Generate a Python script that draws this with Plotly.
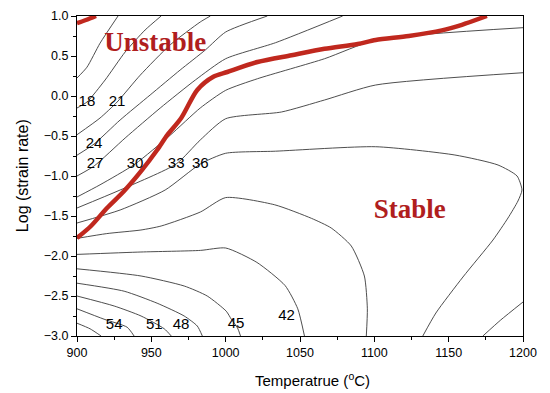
import plotly.graph_objects as go

# ---- data (Temperature degC, log strain rate) ----
T_15 = [900, 906.7, 915.5, 927.6]
Y_15 = [0.225, 0.36, 0.66, 1.0]
T_18 = [900, 906.7, 918.9, 932.4, 945.8, 956.6]
Y_18 = [-0.15, -0.075, 0.2, 0.55, 0.825, 1.0]
T_21 = [900, 915.5, 927, 942.5, 962.7, 982.9, 989.7]
Y_21 = [-0.484, -0.275, -0.075, 0.26, 0.64, 0.925, 1.0]
T_24 = [900, 911.5, 929, 949.2, 969.4, 986.3, 1000, 1028]
Y_24 = [-0.74, -0.6, -0.3, 0.0125, 0.325, 0.575, 0.8, 1.0]
T_27 = [900, 911.5, 932.4, 956, 979.6, 1000, 1033.5, 1078.7]
Y_27 = [-1.0, -0.875, -0.525, -0.15, 0.2, 0.466, 0.666, 1.0]
T_30 = [900, 915.5, 939.1, 962.7, 982.9, 1000, 1021.4, 1066.5, 1100.9, 1200]
Y_30 = [-1.2625, -1.11, -0.85, -0.49, -0.15, 0.071, 0.216, 0.466, 0.7, 0.854]
T_33 = [900, 929, 966.7, 982.9, 1000, 1037.5, 1066.5, 1100.9, 1200]
Y_33 = [-1.4, -1.175, -0.85, -0.55, -0.284, -0.2, -0.05, 0.1375, 0.291]
T_36 = [900, 929, 959.3, 982.9, 1000, 1033.5, 1100.9, 1154.2, 1183.2, 1196,
        1199.3, 1196.6, 1189.9, 1179.8, 1159.6, 1141.4, 1132.6]
Y_36 = [-1.5875, -1.425, -1.175, -0.85, -0.716, -0.69, -0.634, -0.7375, -0.8625, -1.0,
        -1.175, -1.3125, -1.525, -1.8, -2.2625, -2.7125, -3.0]
T_39 = [900, 920, 943, 956.6, 983, 1000, 1033, 1057.8, 1071, 1084.5, 1093.3, 1095.3, 1094.6]
Y_39 = [-1.78, -1.72, -1.675, -1.625, -1.45, -1.27, -1.36, -1.53, -1.65, -1.875, -2.25, -2.66, -3.0]
T_42 = [900, 943, 983, 1000, 1021, 1040, 1048.5, 1053]
Y_42 = [-1.98, -1.95, -1.93, -1.9, -2.08, -2.37, -2.66, -3.0]
T_45 = [900, 943.1, 972.1, 987.6, 1000.4, 1003.8, 1008, 1010]
Y_45 = [-2.16, -2.25, -2.375, -2.5, -2.69, -2.79, -2.9, -3.0]
T_48 = [900, 931.7, 953.9, 972.1, 980.9, 984.3]
Y_48 = [-2.34, -2.44, -2.59, -2.75, -2.875, -3.0]
T_51 = [900, 925, 943.1, 958.7, 963.4]
Y_51 = [-2.5, -2.625, -2.75, -2.91, -3.0]
T_54 = [900, 918.2, 933.7, 938.4]
Y_54 = [-2.66, -2.79, -2.89, -3.0]
T_57 = [900, 908.8, 916.2]
Y_57 = [-2.84, -2.91, -3.0]
T_33b = [1200, 1185, 1173]
Y_33b = [-2.575, -2.8, -3.0]

# instability boundary (red)
T_red_main = [900, 909.4, 920.2, 931.7, 943.1, 953.9, 960.7, 970.1, 980.9, 991.7, 1001.1,
              1021.4, 1044.3, 1066.5, 1088.8, 1100.9, 1123.2, 1145.4, 1158.9, 1175.7]
Y_red_main = [-1.775, -1.625, -1.4, -1.1875, -0.94, -0.675, -0.49, -0.275, 0.075, 0.24, 0.3,
              0.425, 0.51, 0.59, 0.65, 0.7, 0.75, 0.82, 0.89, 1.0]
T_red_corner = [900, 906, 912.8]
Y_red_corner = [0.91, 0.95, 1.0]

# contour labels
label_text = ["18", "21", "24", "27", "30", "33", "36", "54", "51", "48", "45", "42"]
label_T = [906.7, 927, 911.5, 912.1, 939.1, 966.7, 982.9, 925, 952, 970, 1007, 1041]
label_Y = [-0.075, -0.075, -0.6, -0.85, -0.85, -0.85, -0.85, -2.86, -2.86, -2.86, -2.85, -2.75]

region_text = ["Unstable", "Stable"]
region_T = [952.6, 1123.8]
region_Y = [0.65, -1.44]

x_ticks = [900, 950, 1000, 1050, 1100, 1150, 1200]
y_ticks = [-3.0, -2.5, -2.0, -1.5, -1.0, -0.5, 0.0, 0.5, 1.0]

contours = [(T_15, Y_15), (T_18, Y_18), (T_21, Y_21), (T_24, Y_24), (T_27, Y_27),
            (T_30, Y_30), (T_33, Y_33), (T_36, Y_36), (T_39, Y_39), (T_42, Y_42),
            (T_45, Y_45), (T_48, Y_48), (T_51, Y_51), (T_54, Y_54), (T_57, Y_57),
            (T_33b, Y_33b)]

fig = go.Figure()
for tx, ty in contours:
    fig.add_trace(go.Scatter(x=tx, y=ty, mode="lines",
                             line=dict(color="#3a3a3a", width=0.9, shape="spline", smoothing=0.6),
                             hoverinfo="skip", showlegend=False))

for tx, ty in [(T_red_main, Y_red_main), (T_red_corner, Y_red_corner)]:
    fig.add_trace(go.Scatter(x=tx, y=ty, mode="lines",
                             line=dict(color="#c0281e", width=4.5, shape="spline", smoothing=0.8),
                             hoverinfo="skip", showlegend=False))

fig.add_trace(go.Scatter(x=label_T, y=label_Y, mode="text", text=label_text,
                         textfont=dict(family="Arial, Liberation Sans", size=15, color="black"),
                         hoverinfo="skip", showlegend=False))

fig.add_trace(go.Scatter(x=region_T, y=region_Y, mode="text", text=region_text,
                         textfont=dict(family="Liberation Serif, Times New Roman", size=27,
                                       color="#b01e1e", weight="bold"),
                         hoverinfo="skip", showlegend=False))

axis_common = dict(showgrid=False, zeroline=False, showline=True, linecolor="black",
                   linewidth=1.3, mirror=True, ticks="outside", ticklen=5, tickwidth=1,
                   tickcolor="black", automargin=False,
                   tickfont=dict(family="Arial, Liberation Sans", size=12.5, color="black"),
                   minor=dict(ticks="outside", ticklen=3, tickcolor="black", tickwidth=1))

fig.update_xaxes(range=[900, 1200], tickvals=x_ticks, minor_dtick=25, **axis_common)
fig.update_yaxes(range=[-3.0, 1.0], tickvals=y_ticks, tickformat=".1f", minor_dtick=0.25,
                 **axis_common)

fig.add_annotation(text="Temperatrue (<sup>o</sup>C)", xref="paper", yref="paper",
                   x=0.527, y=-0.1, xanchor="center", yanchor="top", showarrow=False,
                   font=dict(family="Arial, Liberation Sans", size=15, color="black"))
fig.add_annotation(text="Log (strain rate)", xref="paper", yref="paper",
                   x=-0.123, y=0.5, xanchor="center", yanchor="middle", showarrow=False,
                   textangle=-90,
                   font=dict(family="Arial, Liberation Sans", size=16, color="black"))

# the page body adds an 8px offset, so the figure is sized to fit the 550x393 window
fig.update_layout(width=542, height=385, margin=dict(l=69, r=27, t=8, b=57),
                  plot_bgcolor="white", paper_bgcolor="white", showlegend=False)

fig.write_html("out.html")
